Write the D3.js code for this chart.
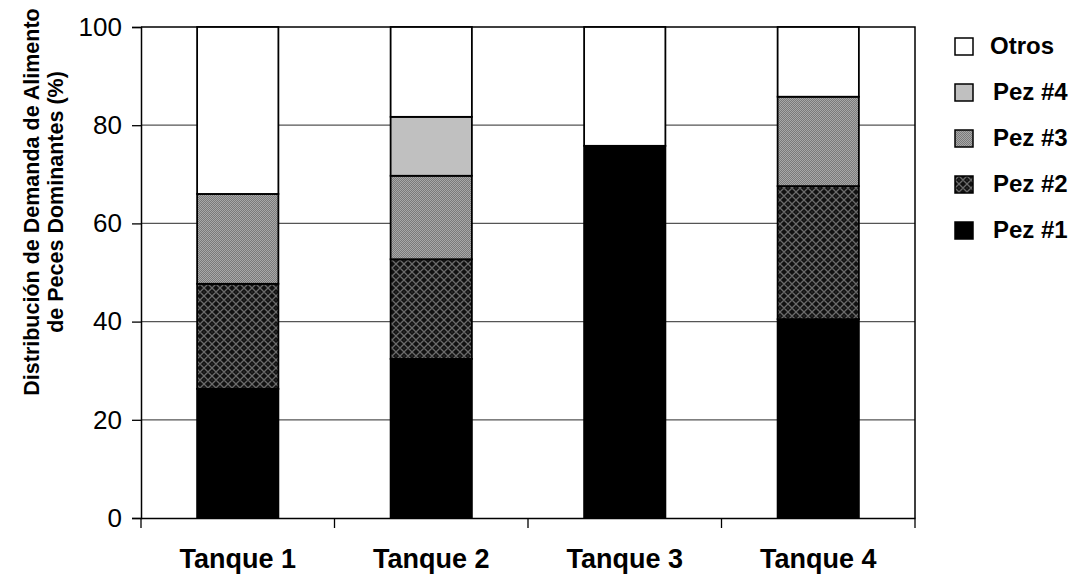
<!DOCTYPE html>
<html>
<head>
<meta charset="utf-8">
<script src="https://cdn.jsdelivr.net/npm/d3@7"></script>
<style>
  html, body { margin: 0; padding: 0; background: #fff; }
  svg { display: block; font-family: Arial, "Liberation Sans", sans-serif; }
</style>
</head>
<body>
<svg id="chart" width="1077" height="581"></svg>
<script>
// Share of feed demand per tank, split by dominant fish (percent)
const categories = ["Tanque 1", "Tanque 2", "Tanque 3", "Tanque 4"];
const seriesKeys = ["pez1", "pez2", "pez3", "pez4", "otros"];
const seriesLabels = ["Pez #1", "Pez #2", "Pez #3", "Pez #4", "Otros"];
const pez1  = [26.3, 32.4, 75.8, 40.5];
const pez2  = [21.4, 20.3, 0.0, 27.1];
const pez3  = [18.3, 17.0, 0.0, 18.2];
const pez4  = [0.0, 12.0, 0.0, 0.0];
const otros = [34.0, 18.3, 24.2, 14.2];
const yTicks = [0, 20, 40, 60, 80, 100];

const rows = categories.map((c, i) => ({
  cat: c, pez1: pez1[i], pez2: pez2[i], pez3: pez3[i], pez4: pez4[i], otros: otros[i]
}));

const svg = d3.select("#chart");
const plot = { left: 141, right: 915, top: 27, bottom: 518 };

// Fill patterns
const defs = svg.append("defs");
const p3 = defs.append("pattern").attr("id", "pat3").attr("patternUnits", "userSpaceOnUse")
  .attr("width", 2).attr("height", 2);
p3.append("rect").attr("width", 2).attr("height", 2).attr("fill", "#7a7a7a");
p3.append("rect").attr("width", 1).attr("height", 1).attr("fill", "#a8a8a8");
p3.append("rect").attr("x", 1).attr("y", 1).attr("width", 1).attr("height", 1).attr("fill", "#a8a8a8");

const p2 = defs.append("pattern").attr("id", "pat2").attr("patternUnits", "userSpaceOnUse")
  .attr("width", 8).attr("height", 8);
p2.append("rect").attr("width", 8).attr("height", 8).attr("fill", "#111");
p2.append("path").attr("d", "M4,0 L8,4 L4,8 L0,4 Z").attr("fill", "none")
  .attr("stroke", "#6a6a6a").attr("stroke-width", 1.3);
p2.append("rect").attr("x", 3.5).attr("y", 3.5).attr("width", 1).attr("height", 1).attr("fill", "#555");

const fills = {
  pez1: "#000000",
  pez2: "url(#pat2)",
  pez3: "url(#pat3)",
  pez4: "#c0c0c0",
  otros: "#ffffff"
};

const x = d3.scaleBand().domain(categories).range([plot.left, plot.right]).padding(0);
const y = d3.scaleLinear().domain([0, 100]).range([plot.bottom, plot.top]);
const barW = x.bandwidth() * 0.42;

// Gridlines
svg.append("g").selectAll("line").data(yTicks.filter(t => t > 0 && t < 100)).join("line")
  .attr("x1", plot.left).attr("x2", plot.right)
  .attr("y1", d => y(d)).attr("y2", d => y(d))
  .attr("stroke", "#555").attr("stroke-width", 1.2);

// Plot border (top and right)
svg.append("path")
  .attr("d", `M${plot.left},${y(100)} H${plot.right} V${plot.bottom}`)
  .attr("fill", "none").attr("stroke", "#000").attr("stroke-width", 1.5);

// Stacked bars
const stacked = d3.stack().keys(seriesKeys)(rows);
const gBars = svg.append("g");
stacked.forEach(layer => {
  gBars.append("g").selectAll("rect")
    .data(layer.filter(d => d[1] - d[0] > 0))
    .join("rect")
    .attr("x", d => x(d.data.cat) + (x.bandwidth() - barW) / 2)
    .attr("width", barW)
    .attr("y", d => y(d[1]))
    .attr("height", d => y(d[0]) - y(d[1]))
    .attr("fill", fills[layer.key])
    .attr("stroke", "#000").attr("stroke-width", 1.8);
});

// Y axis
const yAxis = svg.append("g").attr("transform", `translate(${plot.left},0)`)
  .call(d3.axisLeft(y).tickValues(yTicks).tickSize(9).tickPadding(10).tickFormat(d3.format("d")));
yAxis.select(".domain").attr("stroke", "#000").attr("stroke-width", 1.5);
yAxis.selectAll(".tick line").attr("stroke", "#000").attr("stroke-width", 1.3);
yAxis.selectAll(".tick text").attr("font-size", 26).attr("fill", "#000")
  .attr("font-family", "Arial, 'Liberation Sans', sans-serif");

// X axis with ticks at category boundaries
const xAxis = svg.append("g").attr("transform", `translate(0,${plot.bottom})`)
  .call(d3.axisBottom(x).tickSize(0).tickPadding(31));
xAxis.select(".domain").attr("stroke", "#000").attr("stroke-width", 1.5);
xAxis.selectAll(".tick text").attr("font-size", 27).attr("font-weight", "bold").attr("fill", "#000")
  .attr("font-family", "Arial, 'Liberation Sans', sans-serif");
const bounds = categories.map(c => x(c)).concat([x.range()[1]]);
xAxis.append("g").selectAll("line").data(bounds).join("line")
  .attr("x1", d => d).attr("x2", d => d).attr("y1", 0).attr("y2", 10)
  .attr("stroke", "#000").attr("stroke-width", 1.3);

// Y axis title
const yTitle = svg.append("text")
  .attr("transform", "translate(31,202) rotate(-90)")
  .attr("text-anchor", "middle")
  .attr("font-size", 21.5).attr("font-weight", "bold").attr("fill", "#000");
yTitle.append("tspan").attr("x", 0).attr("dy", "0.35em").text("Distribución de Demanda de Alimento");
yTitle.append("tspan").attr("x", 0).attr("dy", "1.15em").text("de Peces Dominantes (%)");

// Legend (top to bottom: Otros ... Pez #1)
const legendItems = seriesKeys.map((k, i) => ({ key: k, label: seriesLabels[i] })).reverse();
const lg = svg.append("g").attr("transform", "translate(955,46)");
const item = lg.selectAll("g").data(legendItems).join("g")
  .attr("transform", (d, i) => `translate(0,${i * 46})`);
item.append("rect").attr("x", 0).attr("y", -8).attr("width", 18).attr("height", 17)
  .attr("fill", d => fills[d.key]).attr("stroke", "#000").attr("stroke-width", 1.5);
item.append("text").attr("x", d => d.key === "otros" ? 35 : 38).attr("y", 0).attr("dy", "0.35em")
  .attr("font-size", 24).attr("font-weight", "bold").attr("fill", "#000")
  .text(d => d.label);
</script>
</body>
</html>
